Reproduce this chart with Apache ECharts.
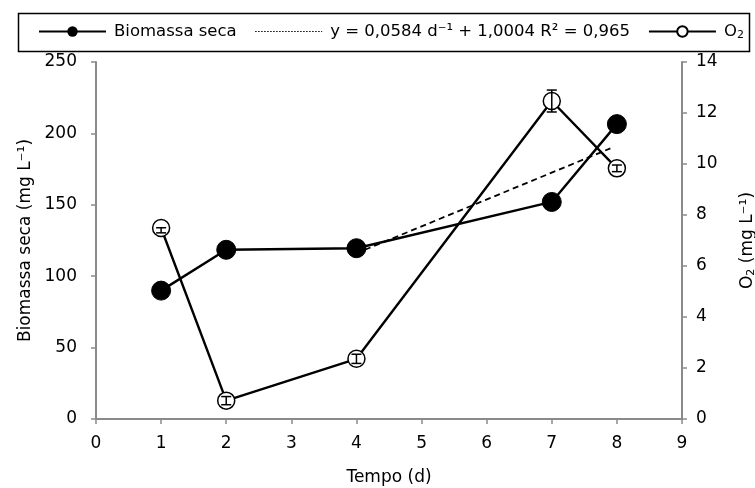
<!DOCTYPE html>
<html>
<head>
<meta charset="utf-8">
<script src="https://cdn.jsdelivr.net/npm/echarts@6/dist/echarts.min.js"></script>
<style>html,body{margin:0;padding:0;background:#fff}#c{width:755px;height:488px}</style>
</head>
<body>
<div id="c"></div>
<script>
// Data
const days = [1, 2, 4, 7, 8];
const biomassa = [89.9, 118.5, 119.6, 152, 206.5];
const o2 = [7.49, 0.72, 2.36, 12.47, 9.83];
const o2Low = [7.3, 0.56, 2.18, 12.04, 9.7];
const o2High = [7.5, 0.88, 2.54, 12.9, 9.96];
const trendX = [4.13, 7.9];
const trendY = [118.5, 189.5];
const xTicks = [0, 9, 1];
const yLeftTicks = [0, 250, 50];
const yRightTicks = [0, 14, 2];
const nameBio = 'Biomassa seca';
const nameTrend = 'y = 0,0584 d\u207B\u00B9 + 1,0004 R\u00B2 = 0,965';
const nameO2 = 'O2';

const FONT = '"DejaVu Sans", "Liberation Sans", Arial, sans-serif';
const FS = 17;
const AXIS_GRAY = '#8a8a8a';

const chart = echarts.init(document.getElementById('c'), null, {renderer: 'canvas'});

const subRich = {sub: {fontSize: 11, fontFamily: FONT, color: '#000', padding: [7, 0, 0, 0]}};

const axisCommon = {
  axisLine: {show: true, lineStyle: {color: AXIS_GRAY, width: 2}},
  axisTick: {show: true, inside: false, length: 5, lineStyle: {color: AXIS_GRAY, width: 1.5}},
  splitLine: {show: false},
  axisLabel: {color: '#000', fontFamily: FONT, fontSize: FS},
  nameTextStyle: {color: '#000', fontFamily: FONT, fontSize: FS, rich: subRich}
};

chart.setOption({
  animation: false,
  backgroundColor: '#fff',
  textStyle: {fontFamily: FONT},
  graphic: [{
    type: 'rect', z: -10,
    shape: {x: 18.5, y: 13.5, width: 731, height: 38},
    style: {fill: 'transparent', stroke: '#000', lineWidth: 1.5}
  }],
  legend: {
    left: 38, top: 23, padding: 0, width: 712,
    itemWidth: 67, itemHeight: 13, itemGap: 18,
    textStyle: {color: '#000', fontFamily: FONT, fontSize: 16.5, padding: [0, 0, 0, 3], rich: subRich},
    formatter: n => n === nameO2 ? 'O{sub|2}' : n,
    data: [
      {name: nameBio},
      {name: nameTrend, itemStyle: {opacity: 0}, lineStyle: {type: [1.5, 1.5], width: 1, color: '#000', opacity: 1}},
      {name: nameO2}
    ]
  },
  grid: {left: 96, right: 73, top: 62, bottom: 69, containLabel: false, outerBoundsMode: 'none'},
  xAxis: Object.assign({}, axisCommon, {
    type: 'value', min: xTicks[0], max: xTicks[1], interval: xTicks[2],
    name: 'Tempo (d)', nameLocation: 'middle', nameGap: 50,
    axisLabel: Object.assign({}, axisCommon.axisLabel, {margin: 16})
  }),
  yAxis: [
    Object.assign({}, axisCommon, {
      type: 'value', position: 'left', min: yLeftTicks[0], max: yLeftTicks[1], interval: yLeftTicks[2],
      name: 'Biomassa seca (mg L\u207B\u00B9)', nameLocation: 'middle', nameGap: 62, nameRotate: 90,
      axisLabel: Object.assign({}, axisCommon.axisLabel, {margin: 19})
    }),
    Object.assign({}, axisCommon, {
      type: 'value', position: 'right', min: yRightTicks[0], max: yRightTicks[1], interval: yRightTicks[2],
      name: 'O{sub|2} (mg L\u207B\u00B9)', nameLocation: 'middle', nameGap: 57, nameRotate: 90,
      axisLabel: Object.assign({}, axisCommon.axisLabel, {margin: 14})
    })
  ],
  series: [
    {
      name: nameBio, type: 'line', yAxisIndex: 0, z: 3,
      data: days.map((d, i) => [d, biomassa[i]]),
      symbol: 'circle', symbolSize: 19,
      lineStyle: {color: '#000', width: 2.4},
      itemStyle: {color: '#000', borderColor: '#000'}
    },
    {
      name: nameTrend, type: 'line', yAxisIndex: 0, z: 2,
      data: trendX.map((x, i) => [x, trendY[i]]),
      symbol: 'none',
      lineStyle: {color: '#000', width: 1.8, type: [6, 4]},
      itemStyle: {color: '#000'}
    },
    {
      name: nameO2, type: 'line', yAxisIndex: 1, z: 3,
      data: days.map((d, i) => [d, o2[i]]),
      symbol: 'circle', symbolSize: 17,
      lineStyle: {color: '#000', width: 2.4},
      itemStyle: {color: '#fff', borderColor: '#000', borderWidth: 1.5}
    },
    {
      name: 'errO2', type: 'custom', yAxisIndex: 1, z: 6,
      data: days.map((d, i) => [d, o2Low[i], o2High[i]]),
      renderItem: function (params, api) {
        const x = api.value(0);
        const lo = api.coord([x, api.value(1)]);
        const hi = api.coord([x, api.value(2)]);
        const w = 5;
        const st = {stroke: '#000', lineWidth: 1.5};
        return {type: 'group', children: [
          {type: 'line', shape: {x1: lo[0], y1: lo[1], x2: hi[0], y2: hi[1]}, style: st},
          {type: 'line', shape: {x1: lo[0] - w, y1: lo[1], x2: lo[0] + w, y2: lo[1]}, style: st},
          {type: 'line', shape: {x1: hi[0] - w, y1: hi[1], x2: hi[0] + w, y2: hi[1]}, style: st}
        ]};
      },
      encode: {x: 0, y: [1, 2]}
    }
  ]
});
</script>
</body>
</html>
